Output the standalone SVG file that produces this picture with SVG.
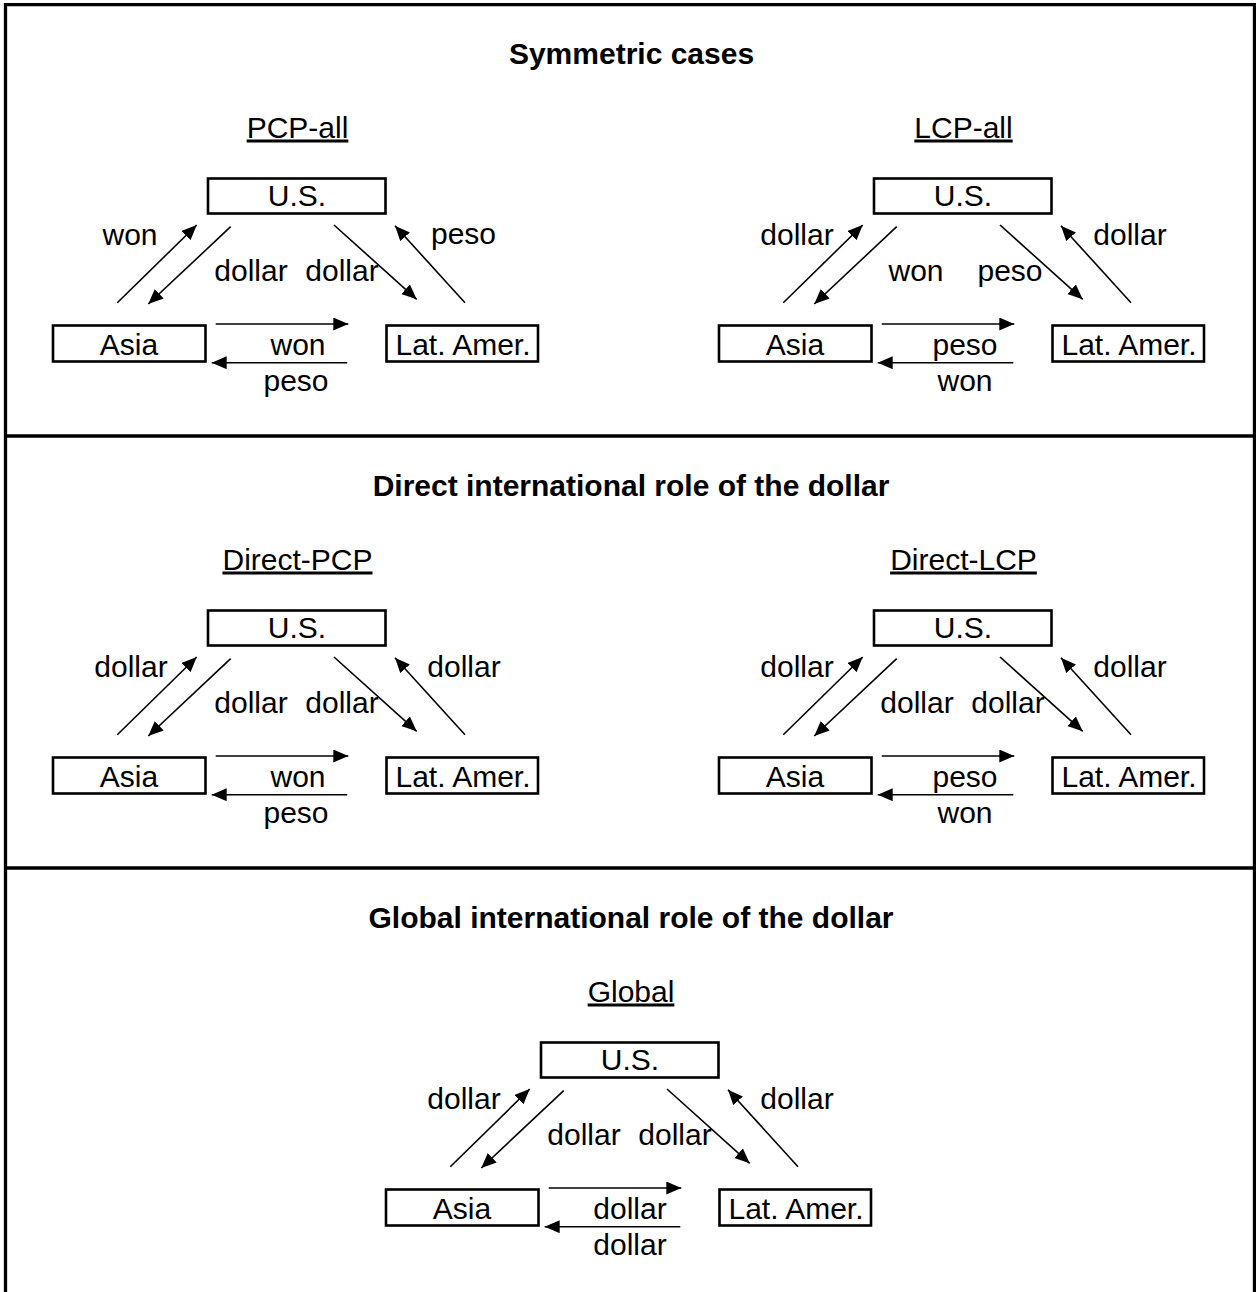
<svg xmlns="http://www.w3.org/2000/svg" width="1256" height="1292" viewBox="0 0 1256 1292">
<defs>
<style>
.t{font-family:"Liberation Sans",Arial,Helvetica,sans-serif;font-size:30px;text-anchor:middle;fill:#000}
.h{font-weight:bold}
.u{text-decoration:underline}
.box{fill:#fff;stroke:#000;stroke-width:2.6}
.c{stroke:#000;stroke-width:1.6;fill:none;marker-end:url(#ah)}
.frame{stroke:#000;stroke-width:3.3;fill:none}
</style>
<marker id="ah" markerUnits="userSpaceOnUse" markerWidth="16" markerHeight="14" refX="15" refY="6.5" orient="auto">
<path d="M0,0 L15,6.5 L0,13 z" fill="#000"/>
</marker>
</defs>
<rect x="0" y="0" width="1256" height="1292" fill="#fff"/>
<g id="frame">
<path class="frame" d="M5.5,1292 V4.7 H1254.5 V1292"/>
<line class="frame" x1="5.5" y1="436" x2="1254.5" y2="436"/>
<line class="frame" x1="5.5" y1="868" x2="1254.5" y2="868"/>
</g>
<g id="headings">
<text class="t h" x="631.5" y="64">Symmetric cases</text>
<text class="t u" x="297.5" y="137.5">PCP-all</text>
<text class="t u" x="963.5" y="137.5">LCP-all</text>
<text class="t h" x="631" y="496">Direct international role of the dollar</text>
<text class="t u" x="297.5" y="569.5">Direct-PCP</text>
<text class="t u" x="963.5" y="569.5">Direct-LCP</text>
<text class="t h" x="631" y="928">Global international role of the dollar</text>
<text class="t u" x="631" y="1001.5">Global</text>
</g>

<!-- Panel 1: PCP-all -->
<g id="p1" transform="translate(0,0)">
<g id="p1-us"><rect class="box" x="208" y="178.5" width="177.5" height="35"/><text class="t" x="297" y="206">U.S.</text></g>
<g id="p1-asia"><rect class="box" x="53" y="325.5" width="152.5" height="36"/><text class="t" x="129" y="355">Asia</text></g>
<g id="p1-latam"><rect class="box" x="386.5" y="325.5" width="151.5" height="36"/><text class="t" x="463" y="355">Lat. Amer.</text></g>
<g id="p1-connectors">
<line class="c" x1="117.3" y1="302.7" x2="196.7" y2="225"/>
<line class="c" x1="230.7" y1="226.7" x2="148.3" y2="304"/>
<line class="c" x1="334" y1="225" x2="416.7" y2="299.3"/>
<line class="c" x1="465" y1="302.7" x2="395" y2="225.7"/>
<line class="c" x1="215.7" y1="324" x2="348.3" y2="324"/>
<line class="c" x1="347.3" y1="362.7" x2="211.7" y2="362.7"/>
<text class="t" x="130" y="245">won</text>
<text class="t" x="251" y="281">dollar</text>
<text class="t" x="342" y="281">dollar</text>
<text class="t" x="463.5" y="244">peso</text>
<text class="t" x="298" y="355">won</text>
<text class="t" x="296" y="390.5">peso</text>
</g>
</g>

<!-- Panel 2: LCP-all -->
<g id="p2" transform="translate(666,0)">
<g id="p2-us"><rect class="box" x="208" y="178.5" width="177.5" height="35"/><text class="t" x="297" y="206">U.S.</text></g>
<g id="p2-asia"><rect class="box" x="53" y="325.5" width="152.5" height="36"/><text class="t" x="129" y="355">Asia</text></g>
<g id="p2-latam"><rect class="box" x="386.5" y="325.5" width="151.5" height="36"/><text class="t" x="463" y="355">Lat. Amer.</text></g>
<g id="p2-connectors">
<line class="c" x1="117.3" y1="302.7" x2="196.7" y2="225"/>
<line class="c" x1="230.7" y1="226.7" x2="148.3" y2="304"/>
<line class="c" x1="334" y1="225" x2="416.7" y2="299.3"/>
<line class="c" x1="465" y1="302.7" x2="395" y2="225.7"/>
<line class="c" x1="215.7" y1="324" x2="348.3" y2="324"/>
<line class="c" x1="347.3" y1="362.7" x2="211.7" y2="362.7"/>
<text class="t" x="131" y="245">dollar</text>
<text class="t" x="250" y="281">won</text>
<text class="t" x="344" y="281">peso</text>
<text class="t" x="464" y="245">dollar</text>
<text class="t" x="299" y="355">peso</text>
<text class="t" x="299" y="390.5">won</text>
</g>
</g>

<!-- Panel 3: Direct-PCP -->
<g id="p3" transform="translate(0,432)">
<g id="p3-us"><rect class="box" x="208" y="178.5" width="177.5" height="35"/><text class="t" x="297" y="206">U.S.</text></g>
<g id="p3-asia"><rect class="box" x="53" y="325.5" width="152.5" height="36"/><text class="t" x="129" y="355">Asia</text></g>
<g id="p3-latam"><rect class="box" x="386.5" y="325.5" width="151.5" height="36"/><text class="t" x="463" y="355">Lat. Amer.</text></g>
<g id="p3-connectors">
<line class="c" x1="117.3" y1="302.7" x2="196.7" y2="225"/>
<line class="c" x1="230.7" y1="226.7" x2="148.3" y2="304"/>
<line class="c" x1="334" y1="225" x2="416.7" y2="299.3"/>
<line class="c" x1="465" y1="302.7" x2="395" y2="225.7"/>
<line class="c" x1="215.7" y1="324" x2="348.3" y2="324"/>
<line class="c" x1="347.3" y1="362.7" x2="211.7" y2="362.7"/>
<text class="t" x="131" y="245">dollar</text>
<text class="t" x="251" y="281">dollar</text>
<text class="t" x="342" y="281">dollar</text>
<text class="t" x="464" y="245">dollar</text>
<text class="t" x="298" y="355">won</text>
<text class="t" x="296" y="390.5">peso</text>
</g>
</g>

<!-- Panel 4: Direct-LCP -->
<g id="p4" transform="translate(666,432)">
<g id="p4-us"><rect class="box" x="208" y="178.5" width="177.5" height="35"/><text class="t" x="297" y="206">U.S.</text></g>
<g id="p4-asia"><rect class="box" x="53" y="325.5" width="152.5" height="36"/><text class="t" x="129" y="355">Asia</text></g>
<g id="p4-latam"><rect class="box" x="386.5" y="325.5" width="151.5" height="36"/><text class="t" x="463" y="355">Lat. Amer.</text></g>
<g id="p4-connectors">
<line class="c" x1="117.3" y1="302.7" x2="196.7" y2="225"/>
<line class="c" x1="230.7" y1="226.7" x2="148.3" y2="304"/>
<line class="c" x1="334" y1="225" x2="416.7" y2="299.3"/>
<line class="c" x1="465" y1="302.7" x2="395" y2="225.7"/>
<line class="c" x1="215.7" y1="324" x2="348.3" y2="324"/>
<line class="c" x1="347.3" y1="362.7" x2="211.7" y2="362.7"/>
<text class="t" x="131" y="245">dollar</text>
<text class="t" x="251" y="281">dollar</text>
<text class="t" x="342" y="281">dollar</text>
<text class="t" x="464" y="245">dollar</text>
<text class="t" x="299" y="355">peso</text>
<text class="t" x="299" y="390.5">won</text>
</g>
</g>

<!-- Panel 5: Global -->
<g id="p5" transform="translate(333,864)">
<g id="p5-us"><rect class="box" x="208" y="178.5" width="177.5" height="35"/><text class="t" x="297" y="206">U.S.</text></g>
<g id="p5-asia"><rect class="box" x="53" y="325.5" width="152.5" height="36"/><text class="t" x="129" y="355">Asia</text></g>
<g id="p5-latam"><rect class="box" x="386.5" y="325.5" width="151.5" height="36"/><text class="t" x="463" y="355">Lat. Amer.</text></g>
<g id="p5-connectors">
<line class="c" x1="117.3" y1="302.7" x2="196.7" y2="225"/>
<line class="c" x1="230.7" y1="226.7" x2="148.3" y2="304"/>
<line class="c" x1="334" y1="225" x2="416.7" y2="299.3"/>
<line class="c" x1="465" y1="302.7" x2="395" y2="225.7"/>
<line class="c" x1="215.7" y1="324" x2="348.3" y2="324"/>
<line class="c" x1="347.3" y1="362.7" x2="211.7" y2="362.7"/>
<text class="t" x="131" y="245">dollar</text>
<text class="t" x="251" y="281">dollar</text>
<text class="t" x="342" y="281">dollar</text>
<text class="t" x="464" y="245">dollar</text>
<text class="t" x="297" y="355">dollar</text>
<text class="t" x="297" y="390.5">dollar</text>
</g>
</g>
</svg>
